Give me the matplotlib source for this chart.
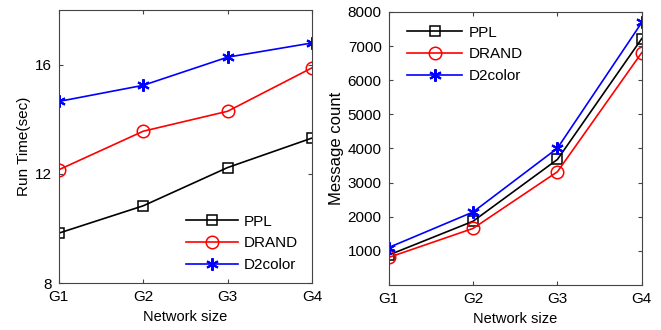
import matplotlib
matplotlib.use("Agg")
import matplotlib.pyplot as plt

categories = ["G1", "G2", "G3", "G4"]
series_names = ["PPL", "DRAND", "D2color"]

runtime_ppl = [9.83, 10.83, 12.23, 13.31]
runtime_drand = [12.15, 13.56, 14.29, 15.88]
runtime_d2color = [14.65, 15.24, 16.27, 16.79]

msg_ppl = [880, 1870, 3680, 7220]
msg_drand = [810, 1660, 3320, 6810]
msg_d2color = [1100, 2140, 4010, 7690]

plt.rcParams['font.family'] = ['Liberation Sans', 'DejaVu Sans']

fig = plt.figure(figsize=(6.61, 3.3), dpi=100)
ax1 = fig.add_axes([0.089, 0.142, 0.383, 0.828])
ax2 = fig.add_axes([0.588, 0.136, 0.383, 0.828])

styles = [
    dict(color="black", marker="s", markersize=7, markerfacecolor="none",
         markeredgecolor="black", markeredgewidth=1.1),
    dict(color="red", marker="o", markersize=9, markerfacecolor="none",
         markeredgecolor="red", markeredgewidth=1.1),
    dict(color="blue", marker=(6, 2, 0), markersize=9, markerfacecolor="blue",
         markeredgecolor="blue", markeredgewidth=1.5),
]

x = list(range(len(categories)))

for ax, data in [(ax1, [runtime_ppl, runtime_drand, runtime_d2color]),
                 (ax2, [msg_ppl, msg_drand, msg_d2color])]:
    for name, vals, st in zip(series_names, data, styles):
        ax.plot(x, vals, linewidth=1.2, label=name, **st)
    ax.set_xlim(0, 3)
    ax.set_xticks(x)
    ax.set_xticklabels(categories)
    ax.tick_params(direction="in", top=True, right=True, length=3, labelsize=11,
                   colors="#444444", pad=5)
    for lbl in ax.get_xticklabels() + ax.get_yticklabels():
        lbl.set_color("black")
    for sp in ax.spines.values():
        sp.set_color("#444444")
        sp.set_linewidth(0.8)
    ax.set_xlabel("Network size", fontsize=10.5, labelpad=4)

ax1.set_ylim(8, 18)
ax1.set_yticks([8, 12, 16])
ax1.set_ylabel("Run Time(sec)", fontsize=11, labelpad=3)
ax1.legend(loc="lower right", frameon=False, fontsize=11, handlelength=3.4,
           borderaxespad=0.5, labelspacing=0.5, handletextpad=0.4,
           bbox_to_anchor=(1.0, -0.01))

ax2.set_ylim(0, 8000)
ax2.set_yticks(range(1000, 8001, 1000))
ax2.set_ylabel("Message count", fontsize=12, labelpad=3)
ax2.legend(loc="upper left", frameon=False, fontsize=11, handlelength=3.6,
           borderaxespad=0.5, labelspacing=0.5, handletextpad=0.4,
           bbox_to_anchor=(0.02, 1.0))

fig.savefig("out.png", dpi=100)
